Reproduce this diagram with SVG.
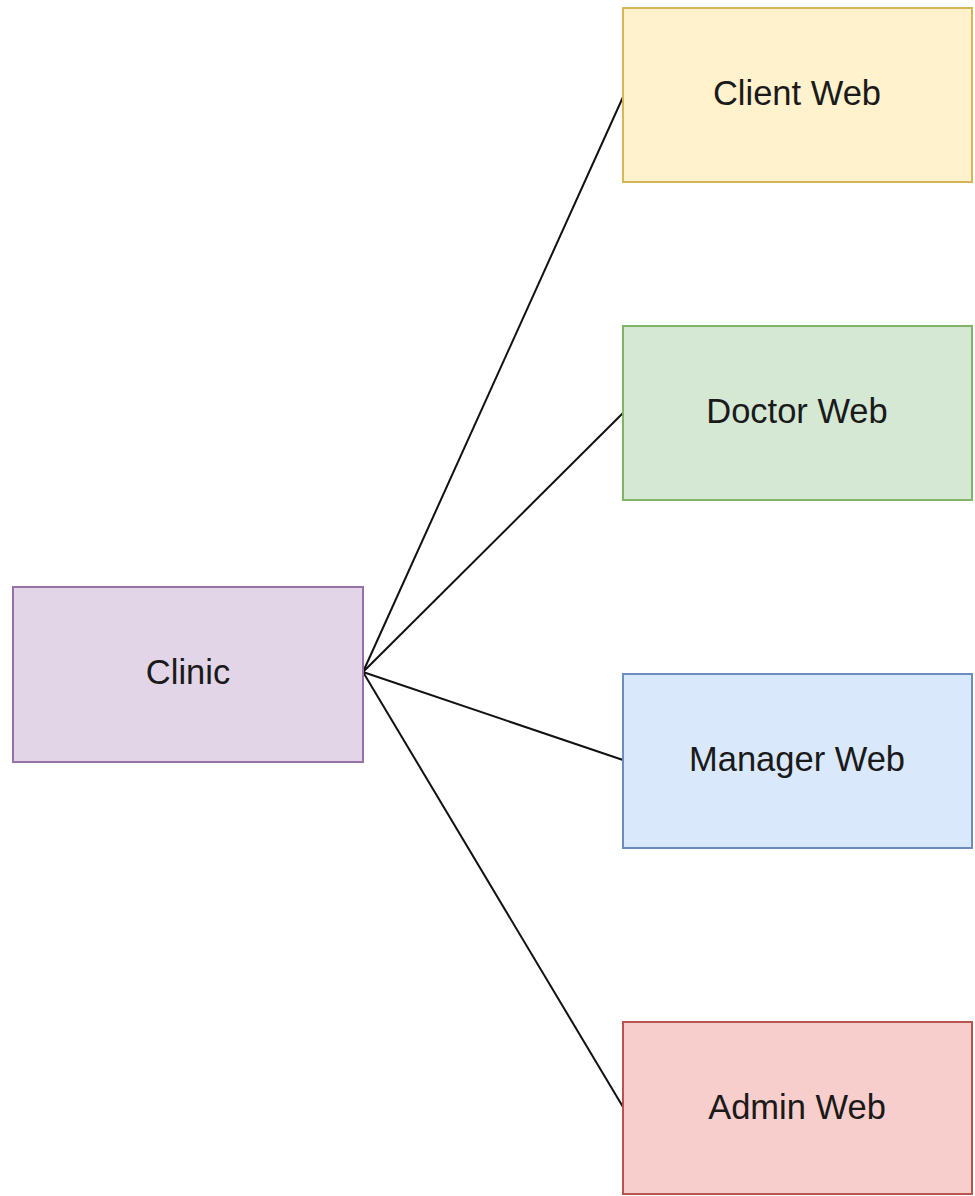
<svg xmlns="http://www.w3.org/2000/svg" width="975" height="1196" viewBox="0 0 975 1196">
  <style>
    .box { stroke-width: 2; }
    .label { font-family: "Liberation Sans", Arial, sans-serif; font-size: 34.5px; fill: #1a1a1a; text-anchor: middle; dominant-baseline: central; }
    .edge { stroke: #111; stroke-width: 2; fill: none; }
  </style>
  <rect width="975" height="1196" fill="#ffffff"/>

  <g id="connectors">
    <line class="edge" x1="363" y1="672" x2="623" y2="97"/>
    <line class="edge" x1="363" y1="672" x2="623" y2="413"/>
    <line class="edge" x1="363" y1="672" x2="623" y2="760"/>
    <line class="edge" x1="363" y1="672" x2="623" y2="1107"/>
  </g>

  <g id="clinic">
    <rect class="box" x="13" y="587" width="350" height="175" fill="#e1d5e7" stroke="#9673a6"/>
    <text class="label" x="188" y="672">Clinic</text>
  </g>

  <g id="client-web">
    <rect class="box" x="623" y="8" width="349" height="174" fill="#fff2cc" stroke="#d6b656"/>
    <text class="label" x="797" y="93">Client Web</text>
  </g>

  <g id="doctor-web">
    <rect class="box" x="623" y="326" width="349" height="174" fill="#d5e8d4" stroke="#82b366"/>
    <text class="label" x="797" y="411">Doctor Web</text>
  </g>

  <g id="manager-web">
    <rect class="box" x="623" y="674" width="349" height="174" fill="#dae8fc" stroke="#6c8ebf"/>
    <text class="label" x="797" y="759">Manager Web</text>
  </g>

  <g id="admin-web">
    <rect class="box" x="623" y="1022" width="349" height="172" fill="#f8cecc" stroke="#b85450"/>
    <text class="label" x="797" y="1107">Admin Web</text>
  </g>
</svg>
